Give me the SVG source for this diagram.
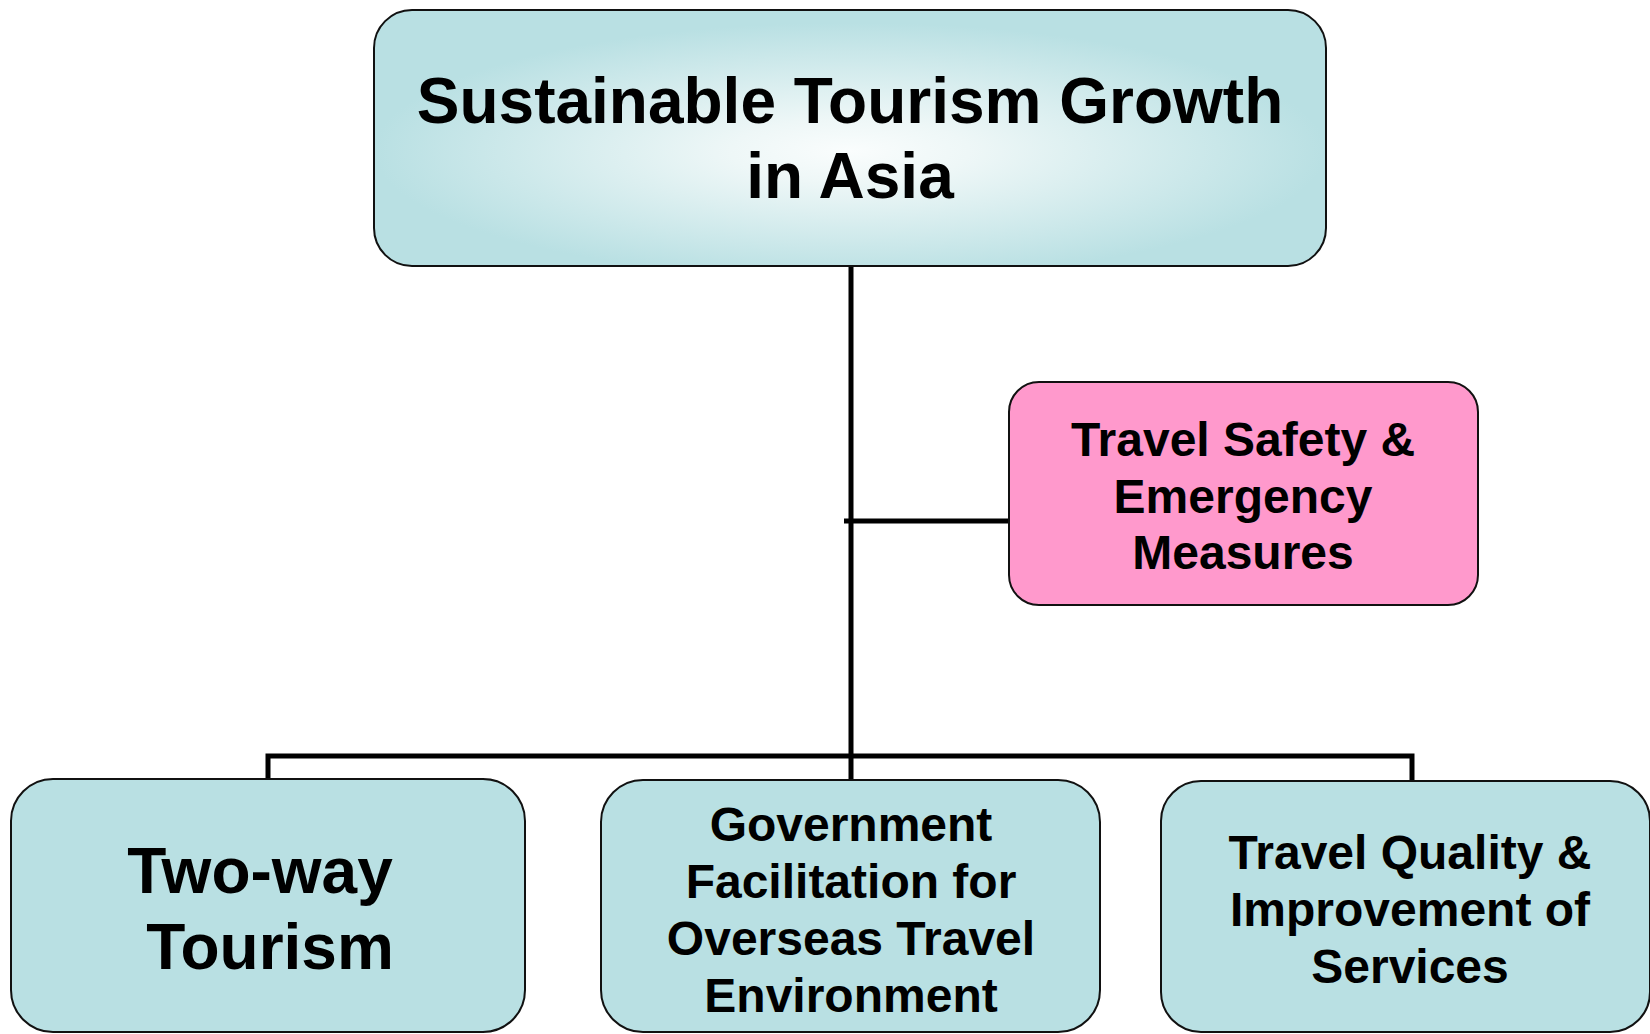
<svg xmlns="http://www.w3.org/2000/svg" width="1650" height="1034" viewBox="0 0 1650 1034">
  <style>
    .box { stroke: #111; stroke-width: 2; }
    .teal { fill: #b9e0e3; }
    .pink { fill: #ff99cc; }
    .wire { fill: none; stroke: #000; stroke-width: 5; stroke-linejoin: miter; }
    text { font-family: "Liberation Sans", Arial, sans-serif; font-weight: bold; fill: #000; text-anchor: middle; }
    .big { font-size: 64px; }
    .mid { font-size: 48px; }
  </style>
  <defs>
    <radialGradient id="glow" cx="0.5" cy="0.55" r="0.5" fx="0.5" fy="0.55">
      <stop offset="0" stop-color="#fafdfd"/>
      <stop offset="0.25" stop-color="#eef7f7"/>
      <stop offset="1" stop-color="#b9e0e3"/>
    </radialGradient>
  </defs>

  <!-- connectors -->
  <g id="connectors">
    <line class="wire" x1="851" y1="266" x2="851" y2="780"/>
    <line class="wire" x1="844" y1="521" x2="1009" y2="521"/>
    <polyline class="wire" points="268,779 268,756 1412,756 1412,781"/>
  </g>

  <!-- root -->
  <g id="root">
    <rect class="box" x="374" y="10" width="952" height="256" rx="38" ry="38" fill="url(#glow)"/>
    <text class="big" x="850" y="123">Sustainable Tourism Growth</text>
    <text class="big" x="850" y="198">in Asia</text>
  </g>

  <!-- side branch -->
  <g id="safety">
    <rect class="box pink" x="1009" y="382" width="469" height="223" rx="30" ry="30"/>
    <text class="mid" x="1243" y="456">Travel Safety &amp;</text>
    <text class="mid" x="1243" y="513">Emergency</text>
    <text class="mid" x="1243" y="569">Measures</text>
  </g>

  <!-- bottom row -->
  <g id="two-way">
    <rect class="box teal" x="11" y="779" width="514" height="253" rx="42" ry="42"/>
    <text class="big" x="260" y="893">Two-way</text>
    <text class="big" x="270" y="969">Tourism</text>
  </g>

  <g id="government">
    <rect class="box teal" x="601" y="780" width="499" height="252" rx="42" ry="42"/>
    <text class="mid" x="851" y="841">Government</text>
    <text class="mid" x="851" y="898">Facilitation for</text>
    <text class="mid" x="851" y="955">Overseas Travel</text>
    <text class="mid" x="851" y="1012">Environment</text>
  </g>

  <g id="quality">
    <rect class="box teal" x="1161" y="781" width="489" height="251" rx="40" ry="40"/>
    <text class="mid" x="1410" y="869">Travel Quality &amp;</text>
    <text class="mid" x="1410" y="926">Improvement of</text>
    <text class="mid" x="1410" y="983">Services</text>
  </g>
</svg>
